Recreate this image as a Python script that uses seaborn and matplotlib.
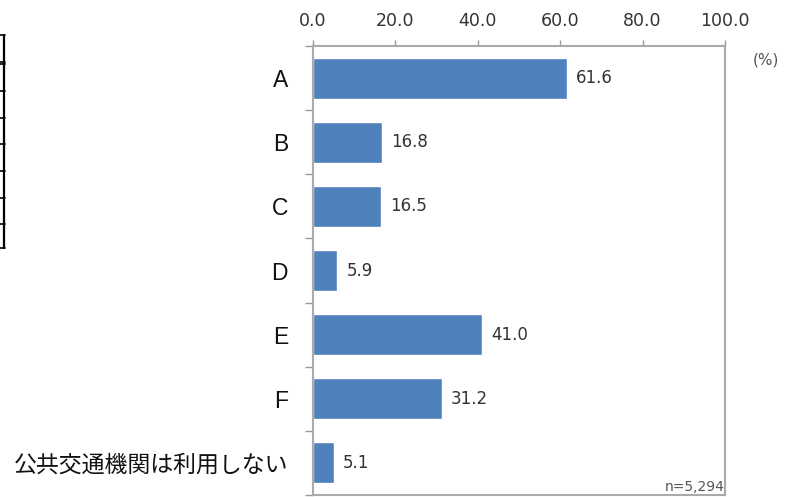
import matplotlib
matplotlib.use("Agg")
import matplotlib.pyplot as plt
import seaborn as sns
import pandas as pd
from matplotlib.lines import Line2D
from matplotlib.ticker import FixedLocator

categories = ["A", "B", "C", "D", "E", "F", "公共交通機関は利用しない"]
values = [61.6, 16.8, 16.5, 5.9, 41.0, 31.2, 5.1]
x_ticks = [0, 20, 40, 60, 80, 100]
x_tick_labels = ["0.0", "20.0", "40.0", "60.0", "80.0", "100.0"]
unit_label = "(%)"
n_label = "n=5,294"

sns.set_theme(style="white")
plt.rcParams['font.family'] = ['Liberation Sans', 'Noto Sans CJK JP', 'DejaVu Sans']

df = pd.DataFrame({"category": categories, "value": values})

W, H = 798, 497
fig = plt.figure(figsize=(W / 100, H / 100), dpi=100)
ax = fig.add_axes([313 / W, 1 - 495 / H, (725 - 313) / W, (495 - 46) / H])

sns.barplot(data=df, y="category", x="value", orient="h", color="#4F81BD",
            saturation=1, width=0.64, ax=ax)

ax.set_xlim(0, 100)
ax.set_ylim(len(categories) - 0.5, -0.5)
ax.set_xlabel("")
ax.set_ylabel("")

ax.xaxis.tick_top()
ax.set_xticks(x_ticks)
ax.set_xticklabels(x_tick_labels, fontsize=12.5, color="#333333", family="DejaVu Sans")
ax.tick_params(axis="x", which="major", direction="out", length=4, width=1,
               color="#999999", pad=7.5, bottom=False, top=True)

ax.tick_params(axis="y", which="major", length=0, pad=18, labelsize=16.5,
               labelcolor="#111111")
ax.yaxis.set_minor_locator(FixedLocator([i + 0.5 for i in range(-1, len(categories))]))
ax.tick_params(axis="y", which="minor", left=True, length=6, width=1,
               color="#999999", direction="out")

for s in ["top", "bottom", "left", "right"]:
    ax.spines[s].set_visible(True)
    ax.spines[s].set_color("#aaaaaa")
    ax.spines[s].set_linewidth(1.5)

for i, v in enumerate(values):
    ax.text(v + 2.2, i, f"{v:.1f}", va="center", ha="left", fontsize=12,
            color="#333333", family="DejaVu Sans")

fig.text(766 / W, 1 - 60 / H, unit_label, ha="center", va="center",
         fontsize=11, color="#555555", family="DejaVu Sans")
ax.text(1.0, 0.003, n_label, transform=ax.transAxes, ha="right", va="bottom",
        fontsize=10, color="#555555", family="DejaVu Sans")

# table fragment at left edge
def fy(y):
    return 1 - y / H

fig.add_artist(Line2D([4 / W, 4 / W], [fy(35), fy(248)], color="black", lw=1.6))
for y in [35, 62, 64, 91, 118, 144, 171, 198, 224, 248]:
    fig.add_artist(Line2D([0, 5 / W], [fy(y), fy(y)], color="black", lw=1.2))

fig.savefig("out.png", dpi=100, facecolor="white")
